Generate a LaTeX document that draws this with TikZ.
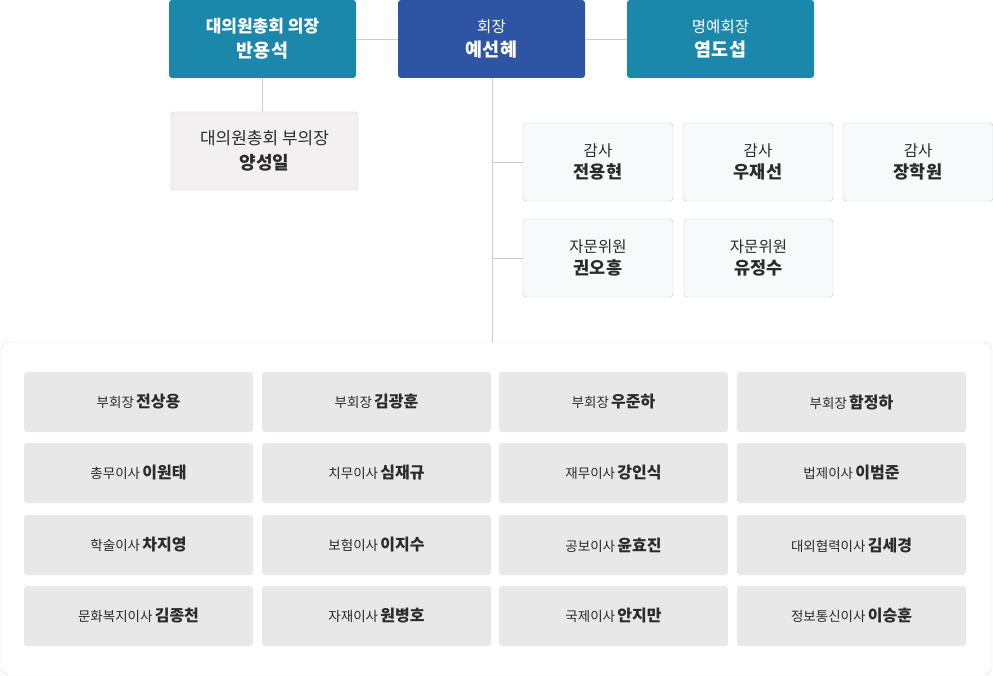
\documentclass[tikz,border=0pt]{standalone}
\usepackage{fontspec}
\setmainfont{Noto Sans CJK KR}
\definecolor{tealbox}{HTML}{1B87AB}
\definecolor{navybox}{HTML}{2D55A4}
\definecolor{conn}{HTML}{CCCCCC}
\definecolor{subfill}{HTML}{F2F0F1}
\definecolor{auditfill}{HTML}{F8F9FA}
\definecolor{gridfill}{HTML}{E8E8E8}
\definecolor{frame}{HTML}{DDDDDD}
\definecolor{txt}{HTML}{2B2B2B}
\newcommand{\twoline}[5]{{\fontsize{#1}{#1}\selectfont #3}\\[#2]{\fontsize{#5}{#5}\selectfont\bfseries #4}}
\newcommand{\gridtext}[2]{{\fontsize{13.5}{16}\selectfont #1} {\fontsize{16}{16}\selectfont\bfseries #2}}
\begin{document}
\begin{tikzpicture}[x=1pt,y=-1pt,
  topbox/.style={rectangle, rounded corners=3pt, minimum width=187pt, minimum height=78pt, inner sep=0pt, text=white, align=center},
  subbox/.style={rectangle, rounded corners=3pt, draw=conn, fill=subfill, minimum width=187pt, minimum height=78pt, inner sep=0pt, text=txt, align=center},
  auditbox/.style={rectangle, rounded corners=3pt, draw=conn, fill=auditfill, minimum width=150pt, minimum height=78pt, inner sep=0pt, text=txt, align=center},
  gridbox/.style={rectangle, rounded corners=3pt, fill=gridfill, minimum width=229pt, minimum height=60pt, inner sep=0pt, text=txt, align=center},
  connector/.style={draw=conn, line width=0.8pt}
]
\useasboundingbox (0,0) rectangle (993,676);

% top row
\node[topbox, fill=tealbox] (chair) at (262.5,39) {\twoline{17}{6.5pt}{\bfseries 대의원총회 의장}{반용석}{18.5}};
\node[topbox, fill=navybox] (pres) at (491.5,39) {\twoline{15.5}{6pt}{회장}{예선혜}{18.5}};
\node[topbox, fill=tealbox] (hon) at (720.5,39) {\twoline{15.5}{6pt}{명예회장}{염도섭}{18.5}};

\draw[connector] (chair.east) -- (pres.west);
\draw[connector] (pres.east) -- (hon.west);

% vice chair
\node[subbox] (vice) at (264.5,151) {\twoline{17}{7pt}{대의원총회 부의장}{양성일}{18}};
\draw[connector] (chair.south) -- (chair.south |- vice.north);

% audit / advisors
\node[auditbox] (a1) at (598,162) {\twoline{15.5}{5pt}{감사}{전용현}{17.5}};
\node[auditbox] (a2) at (758,162) {\twoline{15.5}{5pt}{감사}{우재선}{17.5}};
\node[auditbox] (a3) at (918,162) {\twoline{15.5}{5pt}{감사}{장학원}{17.5}};
\node[auditbox] (c1) at (598,258) {\twoline{15.5}{5pt}{자문위원}{권오흥}{17.5}};
\node[auditbox, minimum width=149pt] (c2) at (758.5,258) {\twoline{15.5}{5pt}{자문위원}{유정수}{17.5}};

% container
\node[draw=frame, fill=white, rounded corners=8pt, minimum width=991pt, minimum height=333pt, inner sep=0pt] (board) at (496.5,508.5) {};

\coordinate (j1) at (492,162);
\coordinate (j2) at (492,258);
\draw[connector] (pres.south -| j1) -- (j1 |- board.north);
\draw[connector] (j1) -- (a1.west);
\draw[connector] (j2) -- (c1.west);

% grid
\node[gridbox] (g11) at (138.5,402) {\gridtext{부회장}{전상용}};
\node[gridbox] (g12) at (376.5,402) {\gridtext{부회장}{김광훈}};
\node[gridbox] (g13) at (613.5,402) {\gridtext{부회장}{우준하}};
\node[gridbox] (g14) at (851.5,402) {\gridtext{부회장}{함정하}};

\node[gridbox] (g21) at (138.5,473) {\gridtext{총무이사}{이원태}};
\node[gridbox] (g22) at (376.5,473) {\gridtext{치무이사}{심재규}};
\node[gridbox] (g23) at (613.5,473) {\gridtext{재무이사}{강인식}};
\node[gridbox] (g24) at (851.5,473) {\gridtext{법제이사}{이범준}};

\node[gridbox] (g31) at (138.5,545) {\gridtext{학술이사}{차지영}};
\node[gridbox] (g32) at (376.5,545) {\gridtext{보험이사}{이지수}};
\node[gridbox] (g33) at (613.5,545) {\gridtext{공보이사}{윤효진}};
\node[gridbox] (g34) at (851.5,545) {\gridtext{대외협력이사}{김세경}};

\node[gridbox] (g41) at (138.5,616) {\gridtext{문화복지이사}{김종천}};
\node[gridbox] (g42) at (376.5,616) {\gridtext{자재이사}{원병호}};
\node[gridbox] (g43) at (613.5,616) {\gridtext{국제이사}{안지만}};
\node[gridbox] (g44) at (851.5,616) {\gridtext{정보통신이사}{이승훈}};
\end{tikzpicture}
\end{document}
